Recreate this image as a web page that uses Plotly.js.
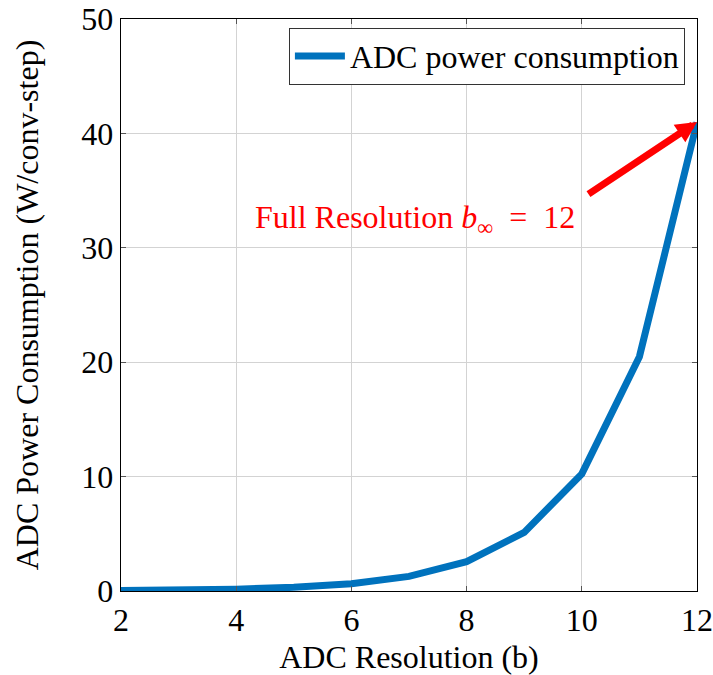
<!DOCTYPE html>
<html>
<head>
<meta charset="utf-8">
<script src="https://cdn.plot.ly/plotly-3.0.1.min.js"></script>
<style>html,body{margin:0;padding:0;background:#fff;}#plot{width:713px;height:675px;}</style>
</head>
<body>
<div id="plot"></div>
<script>
var resolutionBits = [2, 3, 4, 5, 6, 7, 8, 9, 10, 11, 12];
var powerConsumption = [0.04, 0.08, 0.16, 0.32, 0.64, 1.28, 2.56, 5.12, 10.24, 20.48, 40.96];
var seriesName = 'ADC power consumption';
var xTicks = [2, 4, 6, 8, 10, 12];
var yTicks = [0, 10, 20, 30, 40, 50];
var annotationText = 'Full Resolution <i>b</i><sub>∞</sub>&nbsp; =&nbsp; 12';
var arrowHead = [12, 41];
var arrowTail = [10.09, 34.6];

var serif = 'Liberation Serif, Times New Roman, serif';
var trace = {
  x: resolutionBits, y: powerConsumption, name: seriesName,
  type: 'scatter', mode: 'lines',
  line: {color: '#0072BD', width: 7}
};
var axisCommon = {
  showline: true, linecolor: '#000', linewidth: 1.3, mirror: 'ticks',
  ticks: 'inside', ticklen: 5, tickcolor: '#555', tickwidth: 1,
  showgrid: true, gridcolor: '#d3d3d3', gridwidth: 1.2, zeroline: false,
  automargin: false, ticklabeloverflow: 'allow',
  tickfont: {family: serif, size: 32, color: '#000'}
};
var layout = {
  width: 713, height: 675,
  margin: {l: 121, r: 16, t: 19, b: 84},
  paper_bgcolor: '#fff', plot_bgcolor: '#fff',
  showlegend: true,
  legend: {x: 0.979, y: 0.985, xanchor: 'right', yanchor: 'top',
    bordercolor: '#333', borderwidth: 1, bgcolor: '#fff', itemwidth: 50,
    font: {family: serif, size: 32, color: '#000'}},
  xaxis: Object.assign({}, axisCommon, {
    range: [2, 12], tickvals: xTicks, ticktext: xTicks.map(String),
    title: {text: 'ADC Resolution (b)', font: {family: serif, size: 32, color: '#000'}, standoff: 10}
  }),
  yaxis: Object.assign({}, axisCommon, {
    range: [0, 50], tickvals: yTicks, ticktext: yTicks.map(String),
    title: {text: 'ADC Power Consumption (W/conv-step)', font: {family: serif, size: 32, color: '#000'}, standoff: 33}
  }),
  annotations: [
    {x: arrowHead[0], y: arrowHead[1], ax: arrowTail[0], ay: arrowTail[1],
     xref: 'x', yref: 'y', axref: 'x', ayref: 'y',
     text: '', showarrow: true, arrowcolor: '#ff0000', arrowwidth: 7,
     arrowhead: 2, arrowsize: 0.6, standoff: 0},
    {x: arrowTail[0], y: arrowTail[1], xref: 'x', yref: 'y',
     xanchor: 'right', yanchor: 'top', xshift: -10, yshift: -2,
     text: annotationText, showarrow: false,
     font: {family: serif, size: 32, color: '#ff0000'}}
  ]
};
Plotly.newPlot('plot', [trace], layout, {displayModeBar: false, staticPlot: true});
</script>
</body>
</html>
